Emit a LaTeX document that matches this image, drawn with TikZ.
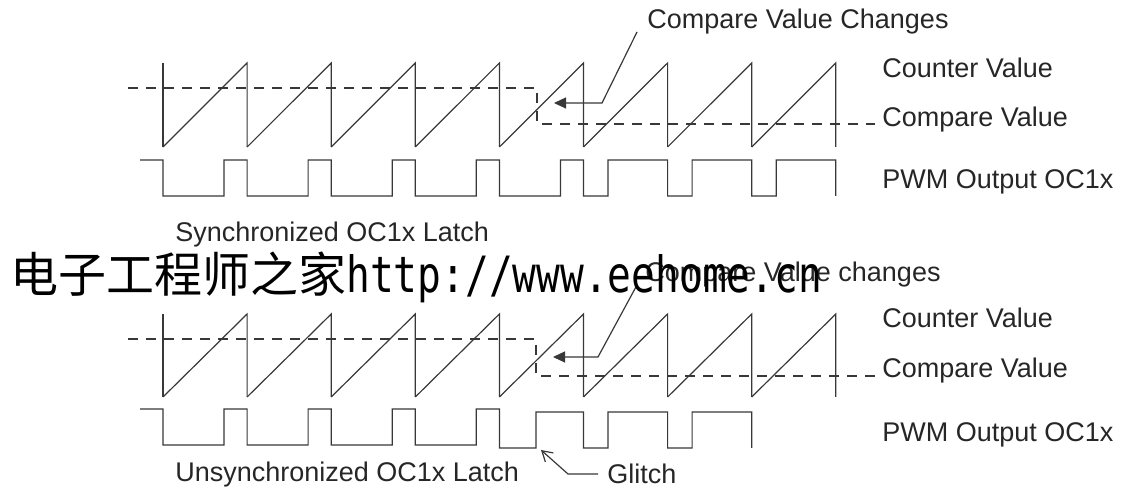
\documentclass[tikz,border=0pt]{standalone}
\usepackage{fontspec}
\setmainfont{Liberation Sans}
\newfontfamily\cjkfont{Noto Sans CJK SC}
\newfontfamily\wmmono{DejaVu Sans Mono}
\usetikzlibrary{arrows.meta,positioning}
\definecolor{waveclr}{gray}{0.22}
\definecolor{txtclr}{gray}{0.15}

\begin{document}
\begin{tikzpicture}[x=0.5pt,y=-0.5pt,
wave/.style={draw=waveclr,line width=0.6pt},
cmpline/.style={draw=waveclr,line width=0.6pt,dash pattern=on 5pt off 4pt},
lbl/.style={anchor=base west,inner sep=0pt,text=txtclr,font=\fontsize{13.5}{16}\selectfont},
callout/.style={draw=waveclr,line width=0.6pt}]
\useasboundingbox (0,0) rectangle (1131,491);

% synchronized latch
\draw[wave] (163,63)--(163,147);
\foreach \i in {0,...,7}
\draw[wave] ({163+84.1*\i},147)--({247.1+84.1*\i},63)--({247.1+84.1*\i},147);
\draw[cmpline] (128,88)--(537,88)--(537,124)--(875,124);
\draw[wave] (140,160)--(163,160)
foreach \i in {0,...,4} {--({163+84.1*\i},196)--({224+84.1*\i},196)--({224+84.1*\i},160)--({247.1+84.1*\i},160)}
foreach \i in {5,6,7} {--({163+84.1*\i},196)--({187.5+84.1*\i},196)--({187.5+84.1*\i},160)--({247.1+84.1*\i},160)}
--(835.8,196);

\node[lbl] (cnt1) at (882,78) {Counter Value};
\node[lbl] (cmp1) at (882,127) {Compare Value};
\node[lbl] (pwm1) at (882,189) {PWM Output OC1x};
\node[lbl] (sync) at (175,242) {Synchronized OC1x Latch};
\node[lbl] (chg1) at (647,29) {Compare Value Changes};
\coordinate (bend1) at (602,103);
\coordinate (tip1) at (554,103);
\draw[callout,-{Triangle[length=6pt,width=5.5pt]}] ([shift={(-10,3)}]chg1.base west)--(bend1)--(tip1);

% unsynchronized latch
\draw[wave] (163,314)--(163,397);
\foreach \i in {0,...,7}
\draw[wave] ({163+84.1*\i},397)--({247.1+84.1*\i},314)--({247.1+84.1*\i},397);
\draw[cmpline] (128,339)--(536,339)--(536,376)--(875,376);
\draw[wave] (140,409)--(163,409)
foreach \i in {0,...,3} {--({163+84.1*\i},445)--({224+84.1*\i},445)--({224+84.1*\i},409)--({247.1+84.1*\i},409)}
--(499.4,448)--(536,448)--(536,412)
foreach \i in {5,6} {--({163+84.1*\i},412)--({163+84.1*\i},448)--({187.5+84.1*\i},448)--({187.5+84.1*\i},412)}
--(751.7,412)--(751.7,448);

\node[lbl] (cnt2) at (882,328) {Counter Value};
\node[lbl] (cmp2) at (882,378) {Compare Value};
\node[lbl] (pwm2) at (882,442) {PWM Output OC1x};
\node[lbl] (unsync) at (175,482) {Unsynchronized OC1x Latch};
\node[lbl] (chg2) at (645,282) {Compare Value changes};
\coordinate (bend2) at (598,357);
\coordinate (tip2) at (553,357);
\draw[callout,-{Triangle[length=6pt,width=5.5pt]}] ([shift={(-8,3)}]chg2.base west)--(bend2)--(tip2);
\node[lbl] (glitch) at (607,484) {Glitch};
\coordinate (bend3) at (568,474);
\coordinate (tip3) at (541,450);
\draw[callout,-{Straight Barb[length=5pt,width=6pt]}] ([shift={(-9,-10)}]glitch.base west)--(bend3)--(tip3);

% watermark
\node[anchor=base west,inner sep=0pt] (wm) at (10,293)
{\fontsize{24}{24}\cjkfont 电子工程师之家\scalebox{0.79}[1]{\fontsize{25}{25}\wmmono http://www.eehome.cn}};
\end{tikzpicture}
\end{document}
